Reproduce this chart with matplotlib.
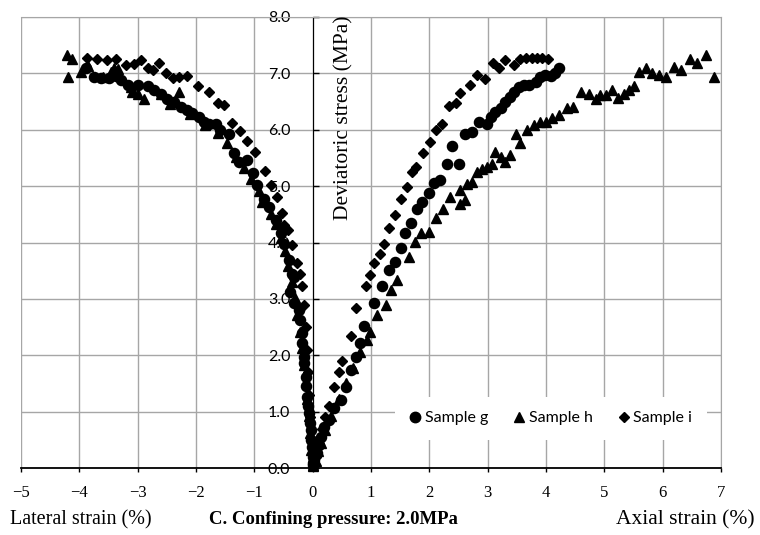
import numpy as np
import matplotlib.pyplot as plt
from matplotlib.lines import Line2D

# Sample g (circles): lateral branch then axial branch, strain (%) vs deviatoric stress (MPa)
g_lat_x = [-3.89, -3.74, -3.63, -3.49, -3.37, -3.29, -3.17, -3.00, -2.83, -2.72, -2.60, -2.49,
           -2.38, -2.26, -2.15, -2.06, -1.95, -1.86, -1.78, -1.66, -1.58, -1.43, -1.35, -1.26,
           -1.12, -1.03, -0.95, -0.83, -0.75, -0.63, -0.55, -0.49, -0.41, -0.35, -0.32, -0.38,
           -0.32, -0.23, -0.21, -0.18, -0.18, -0.15, -0.15, -0.12, -0.12, -0.09, -0.08, -0.06,
           -0.05, -0.03, -0.02, -0.01, 0.00, 0.01]
g_lat_y = [7.09, 6.94, 6.91, 6.91, 6.95, 6.88, 6.79, 6.79, 6.77, 6.71, 6.63, 6.55,
           6.49, 6.40, 6.35, 6.29, 6.23, 6.14, 6.11, 6.11, 5.99, 5.93, 5.58, 5.43,
           5.46, 5.23, 5.02, 4.78, 4.63, 4.40, 4.16, 3.98, 3.69, 3.45, 3.39, 3.13,
           2.92, 2.80, 2.62, 2.39, 2.21, 1.97, 1.86, 1.62, 1.45, 1.26, 1.10, 0.97,
           0.80, 0.67, 0.50, 0.38, 0.20, 0.09]
g_ax_x = [0.01, 0.03, 0.08, 0.11, 0.14, 0.19, 0.28, 0.37, 0.48, 0.57, 0.65, 0.74, 0.82, 0.88,
          1.05, 1.19, 1.31, 1.42, 1.51, 1.59, 1.68, 1.79, 1.88, 1.99, 2.08, 2.19, 2.31, 2.51,
          2.39, 2.62, 2.73, 2.85, 2.99, 3.05, 3.13, 3.22, 3.30, 3.39, 3.45, 3.53, 3.62, 3.71,
          3.82, 3.90, 3.99, 4.08, 4.16, 4.22]
g_ax_y = [0.05, 0.15, 0.26, 0.40, 0.55, 0.73, 0.85, 1.06, 1.21, 1.44, 1.74, 1.97, 2.21, 2.51,
          2.92, 3.22, 3.51, 3.66, 3.90, 4.16, 4.34, 4.60, 4.72, 4.87, 5.05, 5.11, 5.40, 5.39,
          5.71, 5.93, 5.96, 6.14, 6.10, 6.23, 6.32, 6.39, 6.49, 6.58, 6.67, 6.75, 6.79, 6.80,
          6.85, 6.94, 6.97, 6.96, 7.00, 7.09]

# Sample h (triangles)
h_lat_x = [-4.21, -4.12, -4.20, -3.97, -3.86, -3.60, -3.46, -3.34, -3.40, -3.12, -3.09, -3.00,
           -2.89, -2.60, -2.45, -2.29, -2.10, -1.85, -1.62, -1.46, -1.32, -1.18, -1.05, -0.92,
           -0.86, -0.72, -0.62, -0.55, -0.48, -0.42, -0.36, -0.30, -0.26, -0.22, -0.18, -0.15,
           -0.12, -0.09, -0.07, -0.04, -0.02, 0.00]
h_lat_y = [7.32, 7.25, 6.93, 7.03, 7.13, 6.93, 7.03, 7.07, 7.09, 6.76, 6.67, 6.64,
           6.55, 6.64, 6.45, 6.67, 6.28, 6.08, 5.95, 5.76, 5.52, 5.32, 5.12, 4.92,
           4.72, 4.50, 4.32, 4.08, 3.85, 3.58, 3.30, 3.02, 2.72, 2.42, 2.12, 1.82,
           1.52, 1.22, 0.92, 0.62, 0.32, 0.05]
h_ax_x = [0.00, 0.05, 0.10, 0.15, 0.22, 0.32, 0.45, 0.58, 0.70, 0.82, 0.94, 0.99, 1.11, 1.25,
          1.34, 1.45, 1.65, 1.76, 1.85, 1.99, 2.11, 2.24, 2.36, 2.52, 2.62, 2.53, 2.64, 2.73,
          2.81, 2.91, 2.99, 3.08, 3.13, 3.22, 3.30, 3.39, 3.48, 3.56, 3.68, 3.79, 3.89, 4.00,
          4.10, 4.23, 4.36, 4.47, 4.60, 4.73, 4.86, 4.93, 5.03, 5.13, 5.23, 5.33, 5.42, 5.51,
          5.60, 5.72, 5.82, 5.93, 6.06, 6.19, 6.32, 6.46, 6.59, 6.75, 6.88]
h_ax_y = [0.03, 0.12, 0.30, 0.45, 0.68, 0.92, 1.22, 1.50, 1.78, 2.05, 2.27, 2.42, 2.71, 2.89,
          3.16, 3.33, 3.75, 4.01, 4.16, 4.19, 4.43, 4.59, 4.81, 4.69, 4.76, 4.93, 5.04, 5.08,
          5.25, 5.31, 5.34, 5.40, 5.61, 5.52, 5.43, 5.55, 5.93, 5.76, 5.99, 6.08, 6.14, 6.14,
          6.20, 6.26, 6.38, 6.41, 6.67, 6.64, 6.55, 6.61, 6.62, 6.70, 6.57, 6.64, 6.70, 6.77,
          7.03, 7.09, 7.01, 6.97, 6.94, 7.12, 7.06, 7.26, 7.19, 7.32, 6.94]

# Sample i (diamonds)
i_lat_x = [-3.87, -3.69, -3.53, -3.37, -3.20, -3.06, -2.95, -2.83, -2.74, -2.63, -2.52, -2.40,
           -2.29, -2.15, -1.97, -1.78, -1.63, -1.52, -1.38, -1.24, -1.12, -0.98, -0.82, -0.72,
           -0.61, -0.52, -0.49, -0.43, -0.35, -0.26, -0.22, -0.18, -0.15, -0.12, -0.10, -0.08,
           -0.06, -0.04, -0.02, 0.00]
i_lat_y = [7.28, 7.26, 7.23, 7.25, 7.15, 7.16, 7.23, 7.09, 7.06, 7.18, 7.00, 6.91,
           6.94, 6.95, 6.77, 6.67, 6.47, 6.44, 6.12, 5.98, 5.80, 5.60, 5.27, 5.02,
           4.80, 4.52, 4.31, 4.22, 3.95, 3.63, 3.45, 3.22, 2.90, 2.50, 2.10, 1.70,
           1.30, 0.90, 0.50, 0.10]
i_ax_x = [0.02, 0.05, 0.10, 0.16, 0.22, 0.28, 0.36, 0.45, 0.51, 0.65, 0.74, 0.91, 0.98, 1.06,
          1.15, 1.22, 1.31, 1.42, 1.51, 1.61, 1.71, 1.78, 1.90, 2.02, 2.12, 2.22, 2.33, 2.45,
          2.53, 2.69, 2.82, 2.96, 3.10, 3.19, 3.30, 3.45, 3.56, 3.65, 3.76, 3.85, 3.93, 4.04]
i_ax_y = [0.08, 0.20, 0.45, 0.70, 0.90, 1.10, 1.44, 1.71, 1.89, 2.35, 2.83, 3.22, 3.42, 3.63,
          3.79, 3.97, 4.25, 4.49, 4.78, 4.99, 5.25, 5.34, 5.59, 5.79, 5.99, 6.11, 6.42, 6.48,
          6.65, 6.79, 6.97, 6.90, 7.18, 7.09, 7.23, 7.15, 7.25, 7.27, 7.28, 7.28, 7.28, 7.26]

samples = ["Sample g", "Sample h", "Sample i"]
x_ticks = np.arange(-5, 8)
y_ticks = np.arange(0, 9)

serif = "Liberation Serif"
sans = "Lato"
grid_c = "#a6a6a6"

fig = plt.figure(figsize=(7.6, 5.35), dpi=100)
ax = fig.add_axes([21 / 760, 1 - 468 / 535, 700 / 760, 451 / 535])

ax.set_xlim(-5, 7)
ax.set_ylim(0, 8)
ax.set_xticks(x_ticks)
ax.set_yticks(y_ticks)
ax.set_yticklabels([f"{v:.1f}" for v in y_ticks])
ax.grid(True, color=grid_c, lw=1.0, zorder=0)
ax.set_axisbelow(True)

for s in ("top", "right"):
    ax.spines[s].set_color(grid_c)
ax.axvline(-5, color=grid_c, lw=1.2, zorder=0.5)
ax.spines["left"].set_position(("data", 0))
ax.spines["left"].set_color("black")
ax.spines["left"].set_zorder(1)
ax.spines["bottom"].set_color("black")
ax.spines["bottom"].set_linewidth(1.3)

ax.tick_params(axis="y", direction="in", length=4, width=1, pad=16, labelsize=11.5)
ax.tick_params(axis="x", direction="out", length=3, width=1, pad=9, labelsize=12)
for lbl in ax.get_yticklabels():
    lbl.set_fontfamily(sans)
for lbl in ax.get_xticklabels():
    lbl.set_fontfamily(serif)

mk = dict(ls="none", color="black", mec="black", zorder=3, clip_on=False)
ax.plot(g_lat_x + g_ax_x, g_lat_y + g_ax_y, marker="o", ms=7.3, **mk)
ax.plot(h_lat_x + h_ax_x, h_lat_y + h_ax_y, marker="^", ms=7.6, **mk)
ax.plot(i_lat_x + i_ax_x, i_lat_y + i_ax_y, marker="D", ms=5.6, **mk)

ax.text(0.53, 6.22, "Deviatoric stress (MPa)", rotation=90, ha="center", va="center",
        family=serif, fontsize=15.5)

handles = [Line2D([], [], ls="none", color="black", marker=m, ms=s)
           for m, s in (("o", 7.5), ("^", 7), ("D", 5))]
leg = ax.legend(handles, samples, loc="center", bbox_to_anchor=(0.757, 0.11), ncol=3,
                frameon=True, fancybox=False, framealpha=1, facecolor="white",
                edgecolor="none", handlelength=0.7, handletextpad=0.25, columnspacing=1.6,
                borderpad=0.9, prop={"family": sans, "size": 11.5})
leg.set_zorder(4)

fig.text(10 / 760, 1 - 520 / 535, "Lateral strain (%)", ha="left", va="center",
         family=serif, fontsize=14.5)
fig.text(333 / 760, 1 - 520 / 535, "C. Confining pressure: 2.0MPa", ha="center",
         va="center", family=serif, fontsize=13.5, fontweight="bold")
fig.text(755 / 760, 1 - 520 / 535, "Axial strain (%)", ha="right", va="center",
         family=serif, fontsize=15.5)

fig.savefig("out.png", dpi=100)
